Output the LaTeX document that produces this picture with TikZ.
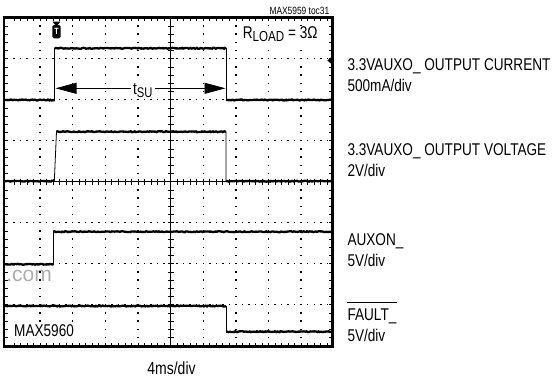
\documentclass[tikz,border=0pt]{standalone}
\usepackage{fontspec}
\setmainfont{Liberation Sans}[FakeStretch=0.80]
\newfontfamily\widefont{Liberation Sans}
\usetikzlibrary{arrows.meta,decorations.pathmorphing}
\begin{document}
\begin{tikzpicture}[x=1pt,y=-1pt,
  lbl/.style={anchor=base west, inner sep=0pt, font=\fontsize{17}{17}\selectfont},
  trace/.style={line width=2.3pt, decorate, decoration={random steps, segment length=1.3pt, amplitude=0.45pt}},
  edgeline/.style={line width=0.8pt},
  thin/.style={line width=0.7pt},
  bigarrow/.style={line width=0.8pt, -{Triangle[length=21pt,width=11pt]}}]
\pgfmathsetseed{7}
\useasboundingbox (0,0) rectangle (554,377);
\fill[white] (0,0) rectangle (554,377);

% watermark
\node[anchor=base east, inner sep=0pt, text=black!32, font=\widefont\fontsize{21}{21}\selectfont] (wm) at (52,281) {.com};

% dotted grid rows
\foreach \j in {1,2,3,5,6,7}{
  \foreach \i in {1,...,49}{
    \fill ({7.35+6.53*\i-0.75},{17.7+41*\j-0.75}) rectangle ++(1.5,1.5);
  }
}
% dotted grid columns
\foreach \k in {1,2,3,4,6,7,8,9}{
  \foreach \i in {1,...,39}{
    \fill ({7.35+32.65*\k-0.75},{17.7+8.2*\i-0.75}) rectangle ++(1.5,1.5);
  }
}
% centre axes with ticks
\draw[thin] (4,181.7) -- (332.5,181.7);
\draw[thin] (170.6,17.7) -- (170.6,346.5);
\foreach \i in {1,...,49} \draw[thin] ({7.35+6.53*\i},178.7) -- ++(0,6);
\foreach \i in {1,...,39} \draw[thin] (167.6,{17.7+8.2*\i}) -- ++(6,0);
% frame ticks
\foreach \i in {1,...,49}{
  \draw[thin] ({7.35+6.53*\i},17.7) -- ++(0,3.5);
  \draw[thin] ({7.35+6.53*\i},346.5) -- ++(0,-3.5);
}
\foreach \i in {1,...,39}{
  \draw[thin] (4,{17.7+8.2*\i}) -- ++(3.5,0);
  \draw[thin] (332.5,{17.7+8.2*\i}) -- ++(-3.5,0);
}
% frame
\draw[line width=2.6pt] (4,17.7) rectangle (332.5,346.5);

% trace 1: output current
\draw[edgeline] (5,100) -- (54.8,100) -- (54.8,48.3) -- (226,48.3) -- (226,100) -- (331,100);
\draw[trace] (5,100) -- (54.8,100);
\draw[trace] (54.8,48.3) -- (226,48.3);
\draw[trace] (226,100) -- (331,100);
% trace 2: output voltage
\draw[edgeline] (5,181.2) -- (54.3,181.2) -- (56.5,131.7) -- (226,131.7) -- (226,181.2) -- (331,181.2);
\draw[trace] (5,181.2) -- (54.3,181.2);
\draw[trace] (56.5,131.7) -- (226,131.7);
\draw[trace] (226,181.2) -- (331,181.2);
% trace 3: AUXON
\draw[edgeline] (5,264.3) -- (53.5,264.3) -- (53.5,231.7) -- (331,231.7);
\draw[trace] (5,264.3) -- (53.5,264.3);
\draw[trace] (53.5,231.7) -- (331,231.7);
% trace 4: FAULT
\draw[edgeline] (5,306) -- (226,306) -- (226,331.7) -- (331,331.7);
\draw[trace] (5,306) -- (226,306);
\draw[trace] (226,331.7) -- (331,331.7);

% trigger marker
\fill (52.5,21.7) -- (60.5,21.7) -- (56.5,26) -- cycle;
\fill[rounded corners=1.5pt] (52.3,25) rectangle (60.7,38.3);
\node[text=white, inner sep=0pt, font=\bfseries\fontsize{9}{9}\selectfont] (trig) at (56.5,31.8) {T};
% right level marker
\fill (327.3,60.5) -- (331.5,57) -- (331.5,64) -- cycle;

% t_SU arrow
\node[anchor=base west, fill=white, inner xsep=2.5pt, inner ysep=1pt, font=\fontsize{17}{17}\selectfont] (tsu) at (130.5,94.3) {t\raisebox{-2.8pt}{\fontsize{14}{14}\selectfont SU}};
\coordinate (tl) at (55.5,88.3);
\coordinate (tr) at (225.5,88.3);
\draw[bigarrow] (tsu.west |- tl) -- (tl);
\draw[bigarrow] (tsu.east |- tr) -- (tr);

% texts inside the screen
\node[anchor=base west, fill=white, inner sep=1.2pt, font=\fontsize{17}{17}\selectfont] (rload) at (241.5,39) {R\raisebox{-2.8pt}{\fontsize{14.5}{14.5}\selectfont LOAD} = 3Ω};
\node[anchor=base east, inner sep=0pt, font=\fontsize{10.5}{10.5}\selectfont] (toc) at (329.5,15) {MAX5959 toc31};
\node[anchor=base west, fill=white, inner sep=1.2pt, font=\fontsize{17}{17}\selectfont] (chip) at (12.8,336.7) {MAX5960};
\node[anchor=base, inner sep=0pt, font=\fontsize{17.5}{17.5}\selectfont] (tdiv) at (171.5,374.3) {4ms/div};

% channel labels
\node[lbl] (l1) at (347.3,70.7) {3.3VAUXO\_ OUTPUT CURRENT};
\node[lbl] (l1b) at (347.3,91.7) {500mA/div};
\node[lbl] (l2) at (347.3,155) {3.3VAUXO\_ OUTPUT VOLTAGE};
\node[lbl] (l2b) at (347.3,176) {2V/div};
\node[lbl] (l3) at (347.3,245) {AUXON\_};
\node[lbl] (l3b) at (347.3,266) {5V/div};
\node[lbl] (l4) at (347.3,320) {FAULT\_};
\node[lbl] (l4b) at (347.3,341) {5V/div};
\draw[line width=0.8pt] ([yshift=5.5pt]l4.north west) -- ([yshift=5.5pt]l4.north east);
\end{tikzpicture}
\end{document}
